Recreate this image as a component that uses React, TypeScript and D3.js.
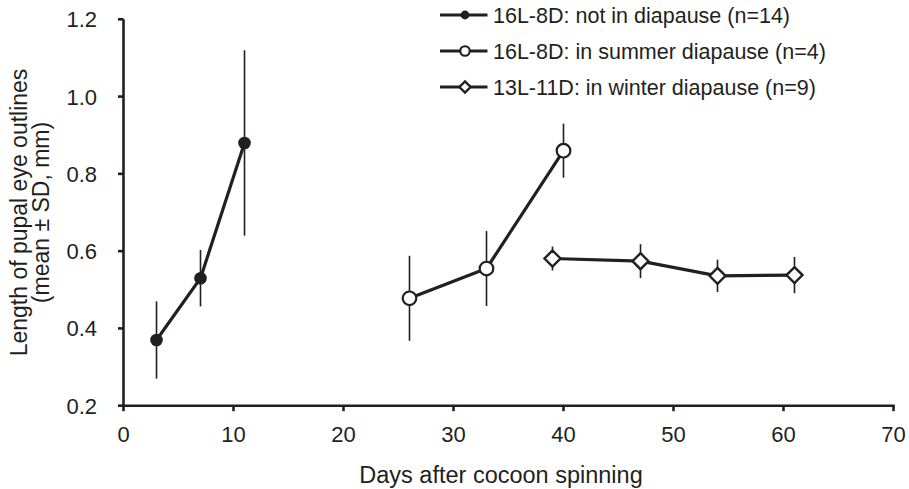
import React from "react";
import * as d3 from "d3";

// Pupal eye outline length by days after cocoon spinning (mean ± SD, mm)
const nonDiapauseDays = [3, 7, 11];
const nonDiapauseMean = [0.37, 0.53, 0.88];
const nonDiapauseSD = [0.1, 0.073, 0.24];

const summerDays = [26, 33, 40];
const summerMean = [0.478, 0.555, 0.86];
const summerSD = [0.11, 0.097, 0.07];

const winterDays = [39, 47, 54, 61];
const winterMean = [0.581, 0.574, 0.536, 0.538];
const winterSD = [0.031, 0.044, 0.042, 0.047];

const xTicks = [0, 10, 20, 30, 40, 50, 60, 70];
const yTicks = [0.2, 0.4, 0.6, 0.8, 1.0, 1.2];

const legendLabels = [
  "16L-8D: not in diapause (n=14)",
  "16L-8D: in summer diapause (n=4)",
  "13L-11D: in winter diapause (n=9)",
];

const INK = "#231f20";
const FONT = "'Liberation Sans', Arial, Helvetica, sans-serif";

type Pt = { d: number; m: number; s: number };
const zip = (days: number[], mean: number[], sd: number[]): Pt[] =>
  days.map((d, i) => ({ d, m: mean[i], s: sd[i] }));

export default function App() {
  const W = 909;
  const H = 489;
  const x = d3.scaleLinear().domain([0, 70]).range([123.5, 893.5]);
  const y = d3.scaleLinear().domain([0.2, 1.2]).range([405.7, 19.3]);

  const series = [
    { pts: zip(nonDiapauseDays, nonDiapauseMean, nonDiapauseSD), kind: "filled" },
    { pts: zip(summerDays, summerMean, summerSD), kind: "open" },
    { pts: zip(winterDays, winterMean, winterSD), kind: "diamond" },
  ];

  const line = d3
    .line<Pt>()
    .x((p) => x(p.d))
    .y((p) => y(p.m));

  const marker = (kind: string, cx: number, cy: number, scale = 1, key?: any) => {
    if (kind === "filled") {
      return <circle key={key} cx={cx} cy={cy} r={6.3 * scale} fill={INK} />;
    }
    if (kind === "open") {
      return (
        <circle key={key} cx={cx} cy={cy} r={6.8 * scale} fill="#fff" stroke={INK} strokeWidth={2.2} />
      );
    }
    const h = 8 * scale;
    return (
      <path
        key={key}
        d={`M${cx},${cy - h}L${cx + h},${cy}L${cx},${cy + h}L${cx - h},${cy}Z`}
        fill="#fff"
        stroke={INK}
        strokeWidth={2.4}
        strokeLinejoin="miter"
      />
    );
  };

  const x0 = x(0);
  const x1 = x(70);
  const yb = y(0.2);
  const yt = y(1.2);

  return (
    <svg
      width={W}
      height={H}
      style={{ position: "absolute", left: 0, top: 0, background: "#fff" }}
      fontFamily={FONT}
    >
      {/* axes */}
      <g stroke={INK} strokeWidth={2.6} fill="none">
        <line x1={x0} y1={yt} x2={x0} y2={yb + 1.3} />
        <line x1={x0 - 1.3} y1={yb} x2={x1 + 1.3} y2={yb} />
        {xTicks.map((t) => (
          <line key={"xt" + t} x1={x(t)} y1={yb} x2={x(t)} y2={yb + 5.5} />
        ))}
        {yTicks.map((t) => (
          <line key={"yt" + t} x1={x0} y1={y(t)} x2={x0 - 5.5} y2={y(t)} />
        ))}
      </g>
      <g fill={INK} fontSize={22}>
        {xTicks.map((t) => (
          <text key={"xl" + t} x={x(t)} y={441.7} textAnchor="middle">
            {t}
          </text>
        ))}
        {yTicks.map((t) => (
          <text key={"yl" + t} x={97} y={y(t)} dy="0.36em" textAnchor="end">
            {t.toFixed(1)}
          </text>
        ))}
      </g>
      <text x={501} y={482.5} textAnchor="middle" fill={INK} fontSize={23.5}>
        Days after cocoon spinning
      </text>
      <text
        transform={`translate(0,212.5) rotate(-90)`}
        textAnchor="middle"
        fill={INK}
        fontSize={23}
      >
        <tspan x={0} y={27}>Length of pupal eye outlines</tspan>
        <tspan x={0} y={48.5}>(mean ± SD, mm)</tspan>
      </text>

      {/* error bars */}
      <g stroke={INK} strokeWidth={1.6}>
        {series.map((s, si) =>
          s.pts.map((p, i) => (
            <line key={`e${si}-${i}`} x1={x(p.d)} x2={x(p.d)} y1={y(p.m - p.s)} y2={y(p.m + p.s)} />
          ))
        )}
      </g>
      {/* series lines */}
      <g fill="none" stroke={INK} strokeWidth={3.2} strokeLinejoin="round">
        {series.map((s, si) => (
          <path key={`l${si}`} d={line(s.pts) || ""} />
        ))}
      </g>
      {/* markers */}
      <g>
        {series.map((s, si) => s.pts.map((p, i) => marker(s.kind, x(p.d), y(p.m), 1, `m${si}-${i}`)))}
      </g>

      {/* legend */}
      <g>
        {legendLabels.map((label, i) => {
          const ly = 15 + i * 36;
          return (
            <g key={"lg" + i}>
              <line x1={440} x2={487.5} y1={ly} y2={ly} stroke={INK} strokeWidth={3.2} />
              {marker(series[i].kind, 465, ly, 0.7)}
              <text x={493} y={ly + 7.7} fill={INK} fontSize={21.5}>
                {label}
              </text>
            </g>
          );
        })}
      </g>
    </svg>
  );
}
